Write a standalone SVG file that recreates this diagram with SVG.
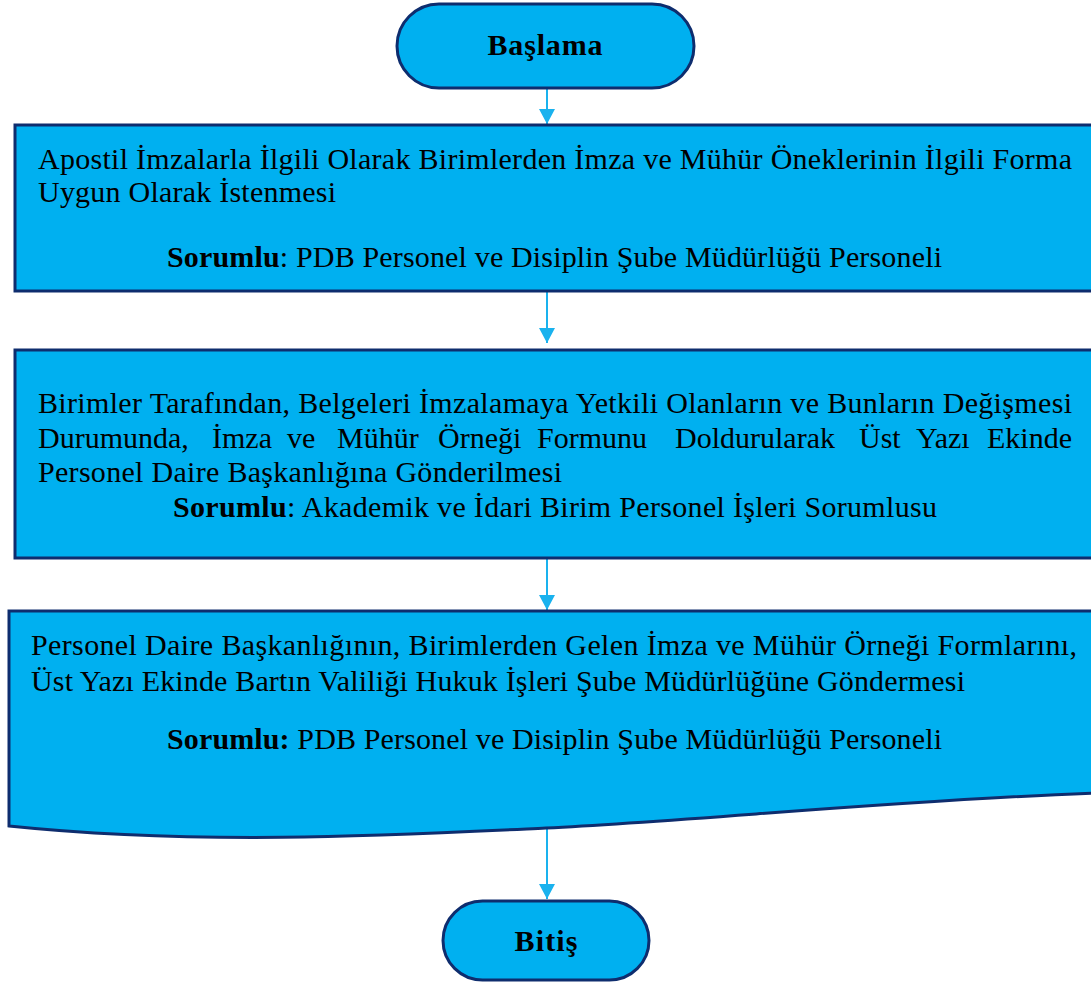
<svg xmlns="http://www.w3.org/2000/svg" width="1091" height="983" viewBox="0 0 1091 983">
<style>
.shape{fill:#00b0f0;stroke:#0e2d6e;stroke-width:3}
.t{font-family:"Liberation Serif","Times New Roman",serif;font-size:30px;fill:#000}
.term{font-family:"Liberation Serif","Times New Roman",serif;font-size:30px;font-weight:bold;fill:#000;text-anchor:middle}
.b{font-weight:bold}
.conn{stroke:#1ab2ee;stroke-width:2;fill:none}
</style>
<defs>
<marker id="ah" markerUnits="userSpaceOnUse" markerWidth="16" markerHeight="16" refX="15" refY="8" orient="auto">
<path d="M0,0 L15,8 L0,16 z" fill="#1ab2ee"/>
</marker>
</defs>
<rect width="1091" height="983" fill="#fff"/>
<g id="connectors">
<line class="conn" x1="547" y1="88" x2="547" y2="124" marker-end="url(#ah)"/>
<line class="conn" x1="547" y1="292" x2="547" y2="343" marker-end="url(#ah)"/>
<line class="conn" x1="547" y1="559" x2="547" y2="610" marker-end="url(#ah)"/>
<line class="conn" x1="547" y1="829" x2="547" y2="899" marker-end="url(#ah)"/>
</g>
<g id="start">
<rect class="shape" x="397" y="4" width="297" height="84" rx="42" ry="42"/>
<text class="term" x="545" y="55" textLength="115">Başlama</text>
</g>
<g id="step1">
<rect class="shape" x="15" y="125" width="1090" height="166"/>
<text class="t" x="38" y="169" textLength="1034">Apostil İmzalarla İlgili Olarak Birimlerden İmza ve Mühür Öneklerinin İlgili Forma</text>
<text class="t" x="38" y="202" textLength="298">Uygun Olarak İstenmesi</text>
<text class="t" x="167" y="267" textLength="775"><tspan class="b">Sorumlu</tspan>: PDB Personel ve Disiplin Şube Müdürlüğü Personeli</text>
</g>
<g id="step2">
<rect class="shape" x="15" y="350" width="1090" height="208"/>
<text class="t" x="38" y="413" textLength="1034">Birimler Tarafından, Belgeleri İmzalamaya Yetkili Olanların ve Bunların Değişmesi</text>
<text class="t" y="448"><tspan x="38">Durumunda,</tspan><tspan x="212">İmza</tspan><tspan x="287">ve</tspan><tspan x="337">Mühür</tspan><tspan x="438">Örneği</tspan><tspan x="537">Formunu</tspan><tspan x="675">Doldurularak</tspan><tspan x="859">Üst</tspan><tspan x="916">Yazı</tspan><tspan x="987">Ekinde</tspan></text>
<text class="t" x="38" y="482" textLength="524">Personel Daire Başkanlığına Gönderilmesi</text>
<text class="t" x="173" y="517" textLength="764"><tspan class="b">Sorumlu</tspan>: Akademik ve İdari Birim Personel İşleri Sorumlusu</text>
</g>
<g id="step3">
<path class="shape" d="M9,611 H1105 V793 L1095,793 C900,800 692,821 546,828 C400,835 200,846 9,826 Z"/>
<text class="t" x="31" y="655" textLength="1046">Personel Daire Başkanlığının, Birimlerden Gelen İmza ve Mühür Örneği Formlarını,</text>
<text class="t" x="31" y="691" textLength="934">Üst Yazı Ekinde Bartın Valiliği Hukuk İşleri Şube Müdürlüğüne Göndermesi</text>
<text class="t" x="167" y="749" textLength="775"><tspan class="b">Sorumlu:</tspan> PDB Personel ve Disiplin Şube Müdürlüğü Personeli</text>
</g>
<g id="end">
<rect class="shape" x="443" y="901" width="206" height="79" rx="39.5" ry="39.5"/>
<text class="term" x="546" y="951" textLength="63">Bitiş</text>
</g>
</svg>
